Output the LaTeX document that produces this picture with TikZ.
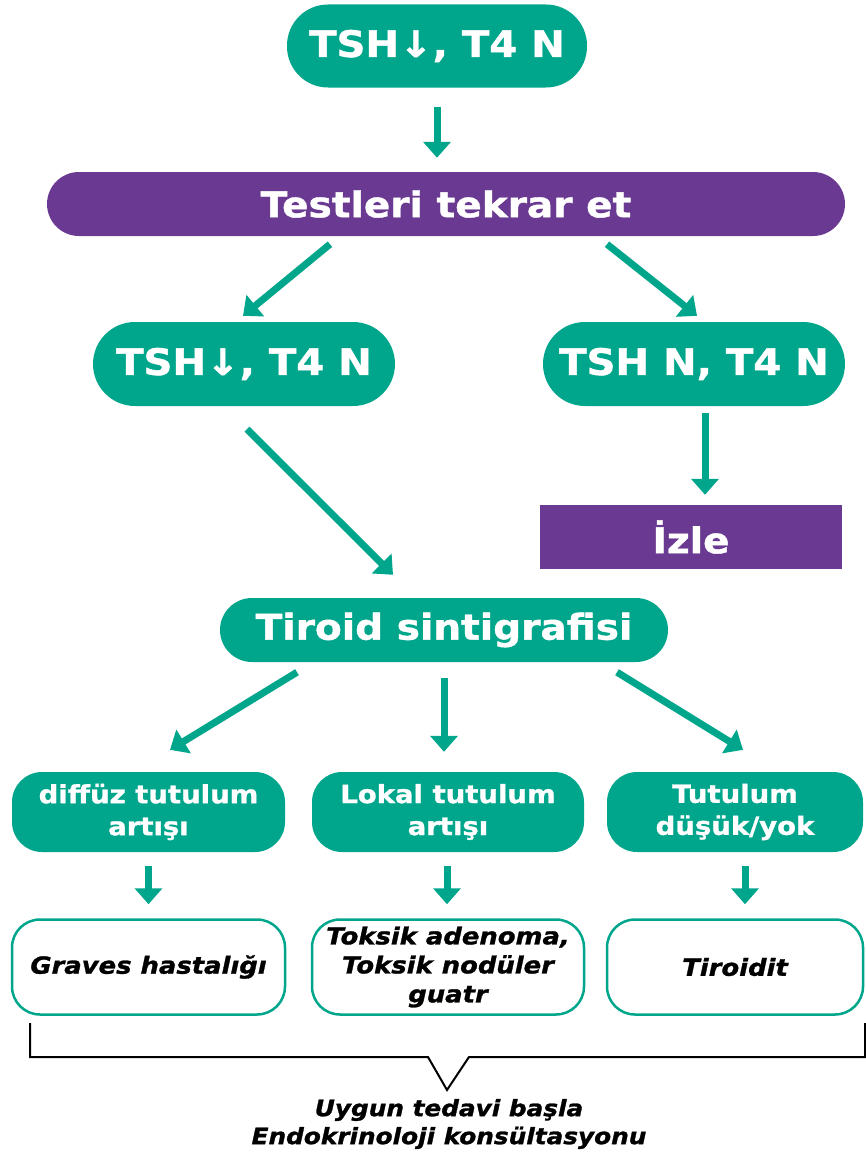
\documentclass[tikz,border=0pt]{standalone}
\usepackage{fontspec}
\setmainfont{DejaVu Sans}[
  FakeStretch=1.1,
  BoldFont={DejaVu Sans Bold},
  ItalicFont={DejaVu Sans Oblique},
  BoldItalicFont={DejaVu Sans Bold Oblique},
  BoldFeatures={FakeBold=1.2},
  BoldItalicFeatures={FakeBold=1.2}
]
\usetikzlibrary{arrows.meta, calc}
\definecolor{tealgreen}{RGB}{0,166,140}
\definecolor{violet}{RGB}{106,58,146}
\tikzset{
  pill/.style={
    fill=tealgreen, text=white, inner sep=0pt,
    minimum width=302pt, minimum height=84pt, rounded corners=42pt,
    font=\bfseries\fontsize{36.5}{40}\selectfont
  },
  bar/.style={
    fill=violet, text=white, inner sep=0pt,
    minimum height=64pt, font=\bfseries\fontsize{35.5}{38}\selectfont
  },
  result/.style={
    fill=tealgreen, text=white, inner sep=0pt, align=center,
    minimum height=80pt, rounded corners=30pt,
    font=\bfseries\fontsize{25}{32}\selectfont
  },
  diagnosis/.style={
    draw=tealgreen, line width=2.5pt, fill=white, inner sep=0pt, align=center,
    minimum height=95pt, rounded corners=28pt,
    font=\bfseries\itshape\fontsize{23.5}{29}\selectfont
  },
  arr/.style={
    draw=tealgreen, line width=7pt,
    -{Triangle[width=27pt,length=16pt]}
  },
}

\begin{document}
\begin{tikzpicture}[x=1pt, y=-1pt]
  \useasboundingbox (0,0) rectangle (866,1156);

  % First test
  \node[pill, minimum width=300pt, minimum height=83pt, rounded corners=41pt] (tsh) at (437,46) {TSH↓, T4 N};
  \node[bar, minimum width=798pt, rounded corners=32pt] (retest) at (446,204) {Testleri tekrar et};

  % Repeat results
  \node[pill] (low) at (244,364) {TSH↓, T4 N};
  \node[pill] (normal) at (694,364) {TSH N, T4 N};
  \node[bar, minimum width=302pt] (follow) at (691,537) {İzle};

  % Scintigraphy
  \node[bar, fill=tealgreen, minimum width=448pt, rounded corners=32pt] (scan) at (444,630) {Tiroid sintigrafisi};

  % Uptake
  \node[result, minimum width=273pt] (diffuse) at (148.5,812) {diffüz tutulum\\artışı};
  \node[result, minimum width=272pt] (local) at (448,812) {Lokal tutulum\\artışı};
  \node[result, minimum width=256pt] (none) at (735,812) {Tutulum\\düşük/yok};

  % Diagnoses
  \node[diagnosis, minimum width=273pt] (graves) at (148.5,967) {Graves hastalığı};
  \node[diagnosis, minimum width=272pt] (toxic) at (448,967) {Toksik adenoma,\\Toksik nodüler\\guatr};
  \node[diagnosis, minimum width=256pt] (thyroiditis) at (735,967) {Tiroidit};

  % Arrows
  \draw[arr] ([yshift=-19pt]tsh.south) -- ([xshift=-9pt,yshift=14pt]retest.north);
  \draw[arr] ([xshift=-116pt,yshift=-8pt]retest.south) -- ([xshift=-1pt,yshift=6pt]low.north);
  \draw[arr] ([xshift=161pt,yshift=-8pt]retest.south) -- ([xshift=3pt,yshift=6pt]normal.north);
  \draw[arr] ([xshift=11pt,yshift=-7pt]normal.south) -- ([xshift=14pt,yshift=10pt]follow.north);
  \draw[arr] ([xshift=3pt,yshift=-23pt]low.south) -- ([xshift=-51pt,yshift=23pt]scan.north);
  \draw[arr] ([xshift=-147pt,yshift=-10pt]scan.south) -- ([xshift=21.5pt,yshift=22pt]diffuse.north);
  \draw[arr] ([yshift=-16pt]scan.south) -- ([xshift=-4pt,yshift=20pt]local.north);
  \draw[arr] ([xshift=173pt,yshift=-10pt]scan.south) -- ([xshift=8pt,yshift=22pt]none.north);
  \draw[arr] ([yshift=-14pt]diffuse.south) -- ([yshift=14pt]graves.north);
  \draw[arr] ([xshift=-1pt,yshift=-14pt]local.south) -- ([xshift=-1pt,yshift=14pt]toxic.north);
  \draw[arr] ([xshift=10pt,yshift=-14pt]none.south) -- ([xshift=10pt,yshift=14pt]thyroiditis.north);

  % Bracket
  \draw[line width=2pt] (30,1023) -- (30,1057) -- (428,1057) -- (447,1090) -- (469,1057) -- (865,1057) -- (865,1023);
  \node[align=center, font=\bfseries\itshape\fontsize{22.5}{28}\selectfont] (treat) at (449,1124) {Uygun tedavi başla\\Endokrinoloji konsültasyonu};
\end{tikzpicture}
\end{document}
